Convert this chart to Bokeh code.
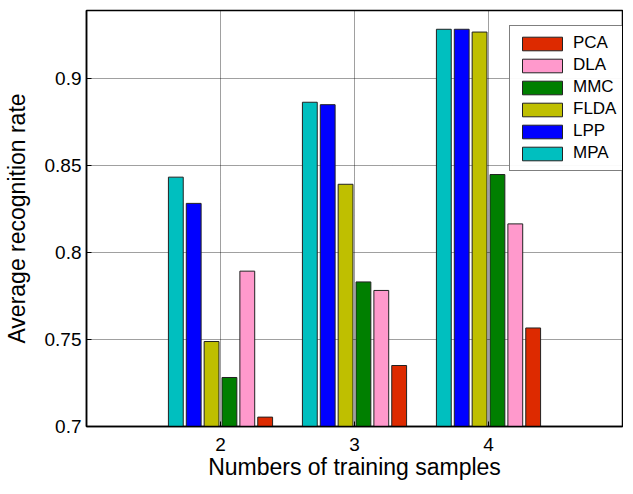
from bokeh.plotting import figure
from bokeh.models import ColumnDataSource, Legend, LegendItem, FixedTicker, Range1d
from bokeh.embed import file_html
from bokeh.resources import INLINE

groups = [2, 3, 4]
series = ["MPA", "LPP", "FLDA", "MMC", "DLA", "PCA"]
colors = {"MPA": "#00BFBF", "LPP": "#0000FF", "FLDA": "#BFBF00",
          "MMC": "#007F00", "DLA": "#FF99CC", "PCA": "#DD2A00"}
values = {
    "MPA": [0.8435, 0.8866, 0.9286],
    "LPP": [0.8284, 0.8852, 0.9286],
    "FLDA": [0.7489, 0.8394, 0.9270],
    "MMC": [0.7282, 0.7832, 0.8450],
    "DLA": [0.7894, 0.7783, 0.8166],
    "PCA": [0.7054, 0.7351, 0.7567],
}
legend_order = ["PCA", "DLA", "MMC", "FLDA", "LPP", "MPA"]
y_ticks = [0.7, 0.75, 0.8, 0.85, 0.9]

FW, FH = 536, 416
p = figure(frame_width=FW, frame_height=FH, output_backend="svg", toolbar_location=None,
           x_range=Range1d(1, 5), y_range=Range1d(0.7, 0.9394))
p.min_border_left = 80
p.min_border_right = 1
p.min_border_top = 10
p.min_border_bottom = 0

slot = 0.8 / len(series)
renderers = {}
for i, s in enumerate(series):
    off = (i - (len(series) - 1) / 2) * slot
    src = ColumnDataSource(dict(x=[g + off for g in groups], top=values[s]))
    r = p.vbar(x="x", top="top", bottom=0.69, width=slot * 0.83, source=src,
               fill_color=colors[s], line_color="#222222", line_width=1)
    renderers[s] = r

items = [LegendItem(label=s, renderers=[renderers[s]]) for s in legend_order]
LW, LH = 113, 144
legend = Legend(items=items, location=(FW - LW, FH - 17 - LH), glyph_width=50, glyph_height=17,
                label_text_font="Liberation Sans", label_text_font_size="17px",
                label_text_color="black",
                label_standoff=6, spacing=2, padding=7, margin=0,
                border_line_color="black", border_line_width=1.5,
                label_height=17)
p.add_layout(legend)

p.xaxis.ticker = FixedTicker(ticks=groups)
p.yaxis.ticker = FixedTicker(ticks=y_ticks)
p.yaxis.major_label_overrides = {0.7: "0.7", 0.75: "0.75", 0.8: "0.8", 0.85: "0.85", 0.9: "0.9"}
p.xaxis.axis_label = "Numbers of training samples"
p.yaxis.axis_label = "Average recognition rate"
for ax in (p.xaxis[0], p.yaxis[0]):
    ax.axis_label_text_font = "Liberation Sans"
    ax.axis_label_text_font_style = "normal"
    ax.axis_label_text_font_size = "23px"
    ax.axis_label_text_color = "black"
    ax.major_label_text_font = "Liberation Sans"
    ax.major_label_text_font_size = "19px"
    ax.major_label_text_color = "black"
    ax.axis_line_color = "black"
    ax.axis_line_width = 1.5
    ax.major_tick_in = 5
    ax.major_tick_out = 0
    ax.major_tick_line_color = "black"
    ax.minor_tick_line_color = None
p.xaxis.major_label_standoff = 11
p.yaxis.major_label_standoff = 5
p.xaxis.axis_label_standoff = 0
p.yaxis.axis_label_standoff = 12

p.grid.grid_line_color = "black"
p.grid.grid_line_alpha = 0.75
p.grid.grid_line_dash = "1 1"
p.grid.grid_line_width = 1
p.outline_line_color = "black"
p.outline_line_width = 1.5
p.background_fill_color = "white"
p.border_fill_color = "white"

open("out.html", "w").write(file_html(p, INLINE))
